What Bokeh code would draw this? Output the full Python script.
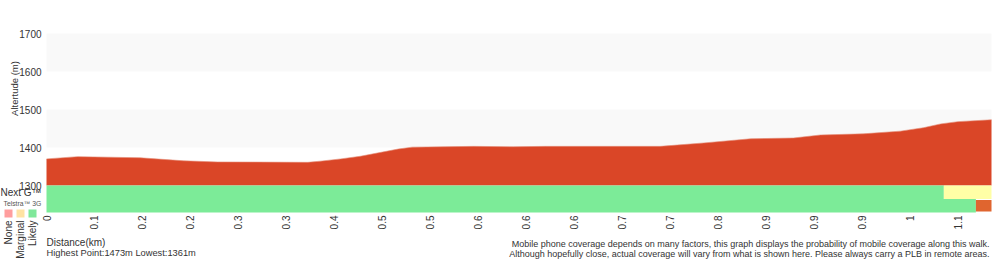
import math
from bokeh.plotting import figure
from bokeh.core.properties import value
from bokeh.embed import file_html
from bokeh.resources import INLINE

# ---- data ----
distance_km = [0.000, 0.038, 0.114, 0.167, 0.208, 0.318, 0.333, 0.358, 0.382, 0.428,
               0.445, 0.520, 0.568, 0.607, 0.747, 0.800, 0.857, 0.909, 0.942, 0.994,
               1.039, 1.067, 1.088, 1.109, 1.150]
altitude_m = [1370, 1376, 1373, 1365, 1362, 1361, 1364, 1370, 1377, 1396,
              1401, 1403, 1402, 1403, 1403, 1412, 1423, 1425, 1433, 1436,
              1443, 1452, 1462, 1468, 1473]

total_km = 1.150
y_ticks = [1300, 1400, 1500, 1600, 1700]
x_tick_step = 0.0584
x_tick_labels = ["0", "0.1", "0.2", "0.2", "0.3", "0.3", "0.4", "0.5", "0.5", "0.6",
                 "0.6", "0.6", "0.7", "0.7", "0.8", "0.9", "0.9", "0.9", "1", "1.1"]

# coverage segments: (start_km, end_km, state)
nextg_segments = [(0.000, 1.092, "Likely"), (1.092, 1.150, "Marginal")]
g3_segments = [(0.000, 1.131, "Likely"), (1.131, 1.150, "None")]

legend_states = ["None", "Marginal", "Likely"]
legend_colors = ["#ff9e9e", "#ffe3a3", "#7fe89a"]
bar_colors = {"Likely": "#7ceb98", "Marginal": "#ffffa6", "None": "#e0652f"}

FONT = value("Liberation Sans")
TXT = "#333333"

# chart area in canvas pixels; the Bokeh frame covers the whole canvas so that
# every text (axes, legend, notes) is drawn inside it and not clipped
W, H = 1000, 260
FL, FR, FT, FB = 46, 991, 33, 212
y_lo, y_hi = 1229, 1700
kx = total_km / (FR - FL)
ky = (y_hi - y_lo) / (FB - FT)

def dx(px):
    return (px - FL) * kx
def dy(py):
    return y_hi - (py - FT) * ky

p = figure(width=W, height=H, output_backend="svg", toolbar_location=None,
           x_range=(dx(0), dx(W)), y_range=(dy(H), dy(0)),
           min_border=0, min_border_left=0, min_border_right=0, min_border_top=0, min_border_bottom=0)
p.axis.visible = False
p.grid.visible = False
p.outline_line_color = None
p.background_fill_color = "white"
p.border_fill_color = "white"

# alternating bands
for i in range(len(y_ticks) - 1):
    if i % 2 == 1:
        p.quad(left=0, right=total_km, bottom=y_ticks[i], top=y_ticks[i + 1],
               fill_color="#f9f9f9", line_color=None)

# elevation area
p.varea(x=distance_km, y1=[y_ticks[0]] * len(distance_km), y2=altitude_m, fill_color="#da4627")
p.line(x=distance_km, y=altitude_m, line_color="#e48a74", line_width=1, line_alpha=0.6)

# coverage rows
row_h = (y_ticks[0] - y_lo) / 2.0
rows = [(nextg_segments, y_ticks[0] - row_h, y_ticks[0]), (g3_segments, y_lo, y_ticks[0] - row_h)]
for segs, b, t in rows:
    for s, e, st in segs:
        if st == "None":
            p.quad(left=s, right=e, bottom=b + 1 * ky, top=t - 1 * ky, fill_color=bar_colors[st], line_color=None)
        else:
            p.quad(left=s, right=e, bottom=b, top=t, fill_color=bar_colors[st], line_color=None)

# y-axis tick labels
p.text(x=[dx(41)] * len(y_ticks), y=y_ticks, text=[str(v) for v in y_ticks],
       text_font=FONT, text_font_size="10px", text_color=TXT,
       text_align="right", text_baseline="middle")

# x-axis tick labels (rotated)
xt = [i * x_tick_step for i in range(len(x_tick_labels))]
p.text(x=xt, y=[dy(215)] * len(xt), text=x_tick_labels, angle=math.pi / 2,
       text_font=FONT, text_font_size="10px", text_color=TXT,
       text_align="right", text_baseline="middle")

def lab(text, sx, sy, size="10px", align="left", color=TXT, angle=0.0, baseline="middle"):
    p.text(x=[dx(sx)], y=[dy(sy)], text=[text], text_font=FONT, text_font_size=size,
           text_color=color, text_align=align, text_baseline=baseline, angle=angle)

lab("Altertude (m)", 14, 88, size="9.5px", angle=math.pi / 2, align="center")
lab("Next G\u2122", 0, 192, size="10px")
lab("Telstra\u2122 3G", 3, 203, size="6.8px", color="#555555")
lx = [dx(8 + i * 12) for i in range(len(legend_states))]
p.rect(x=lx, y=[dy(213)] * len(lx), width=8, height=8, width_units="screen", height_units="screen",
       fill_color=legend_colors, line_color=None)
p.text(x=lx, y=[dy(220)] * len(lx), text=legend_states, angle=math.pi / 2,
       text_font=FONT, text_font_size="10px", text_color=TXT,
       text_align="right", text_baseline="middle")

lab("Distance(km)", 46, 242)
lab("Highest Point:%dm Lowest:%dm" % (max(altitude_m), min(altitude_m)), 46, 252, size="9.3px")
lab("Mobile phone coverage depends on many factors, this graph displays the probability of mobile coverage along this walk.",
    989, 243, size="9px", align="right")
lab("Although hopefully close, actual coverage will vary from what is shown here. Please always carry a PLB in remote areas.",
    989, 253, size="9px", align="right")

open("out.html", "w").write(file_html(p, INLINE))
